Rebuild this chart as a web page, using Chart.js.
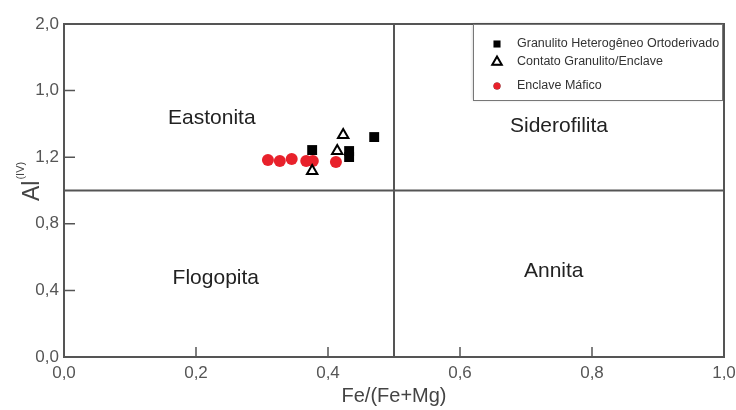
<!DOCTYPE html>
<html>
<head>
<meta charset="utf-8">
<script src="https://cdn.jsdelivr.net/npm/chart.js@4"></script>
<style>
  html, body { margin: 0; padding: 0; background: #fff; }
  #wrap { width: 736px; height: 410px; position: relative; }
</style>
</head>
<body>
<div id="wrap"><canvas id="chart-biotita"></canvas></div>
<script>
/* ------------------------------
 * dados
 * ------------------------------ */
const seriesNames = ['Granulito Heterogêneo Ortoderivado', 'Contato Granulito/Enclave', 'Enclave Máfico'];

// Fe/(Fe+Mg)
const granulitoX = [0.376, 0.432, 0.432, 0.470];
const contatoX   = [0.423, 0.414, 0.376];
const enclaveX   = [0.309, 0.327, 0.345, 0.367, 0.377, 0.412];

// Al(IV)
const granulitoY = [1.243, 1.237, 1.201, 1.321];
const contatoY   = [1.333, 1.237, 1.117];
const enclaveY   = [1.183, 1.177, 1.189, 1.177, 1.177, 1.171];

// rótulos dos eixos (como estão na figura original)
const xTickLabels = ['0,0', '0,2', '0,4', '0,6', '0,8', '1,0'];
const yTickLabels = ['0,0', '0,4', '0,8', '1,2', '1,0', '2,0'];

// campos do diagrama
const regionNames = ['Eastonita', 'Siderofilita', 'Flogopita', 'Annita'];
const regionX = [0.224, 0.750, 0.230, 0.742];
const regionY = [1.435, 1.387, 0.474, 0.517];

// divisões
const splitX = 0.5;
const splitY = 1.0;

const toPoints = (xs, ys) => xs.map((x, i) => ({ x: x, y: ys[i] }));

/* ------------------------------
 * desenho extra: moldura, divisões, ticks internos, textos, legenda
 * ------------------------------ */
const FONT = '"Liberation Sans", Arial, sans-serif';
const LINE = '#555';

const diagramPlugin = {
  id: 'diagram',
  beforeDatasetsDraw(chart) {
    const { ctx, chartArea: a, scales: { x, y } } = chart;
    ctx.save();
    ctx.strokeStyle = LINE;
    ctx.lineWidth = 2;

    // divisões
    const px = x.getPixelForValue(splitX);
    const py = y.getPixelForValue(splitY);
    ctx.beginPath();
    ctx.moveTo(px, a.top); ctx.lineTo(px, a.bottom);
    ctx.moveTo(a.left, py); ctx.lineTo(a.right, py);
    ctx.stroke();

    // ticks para dentro
    ctx.lineWidth = 1.5;
    ctx.beginPath();
    x.ticks.forEach(t => {
      if (t.value <= x.min || t.value >= x.max) return;
      const p = x.getPixelForValue(t.value);
      ctx.moveTo(p, a.bottom); ctx.lineTo(p, a.bottom - 10);
    });
    y.ticks.forEach(t => {
      if (t.value <= y.min || t.value >= y.max) return;
      const p = y.getPixelForValue(t.value);
      ctx.moveTo(a.left, p); ctx.lineTo(a.left + 11, p);
    });
    ctx.stroke();

    // moldura
    ctx.lineWidth = 2;
    ctx.strokeRect(a.left, a.top, a.right - a.left, a.bottom - a.top);

    // nomes dos campos
    ctx.fillStyle = '#222';
    ctx.font = '21px ' + FONT;
    ctx.textAlign = 'center';
    ctx.textBaseline = 'middle';
    regionNames.forEach((name, i) => {
      ctx.fillText(name, x.getPixelForValue(regionX[i]), y.getPixelForValue(regionY[i]));
    });

    // títulos dos eixos
    ctx.fillStyle = '#444';
    ctx.font = '20px ' + FONT;
    ctx.textBaseline = 'middle';
    ctx.fillText('Fe/(Fe+Mg)', (a.left + a.right) / 2, 396);

    ctx.translate(39, 201);
    ctx.rotate(-Math.PI / 2);
    ctx.textAlign = 'left';
    ctx.textBaseline = 'alphabetic';
    ctx.font = '23px ' + FONT;
    ctx.fillText('Al', 0, 0);
    const w = ctx.measureText('Al').width;
    ctx.font = '11px ' + FONT;
    ctx.fillText('(IV)', w + 1, -15);
    ctx.restore();
  },
  afterDraw(chart) {
    const { ctx, chartArea: a } = chart;
    const bw = 249, bh = 76;
    const bx = a.right - bw - 2, by = a.top;
    ctx.save();
    ctx.shadowColor = 'rgba(0,0,0,0.25)';
    ctx.shadowBlur = 3;
    ctx.fillStyle = '#fff';
    ctx.fillRect(bx, by, bw, bh);
    ctx.shadowColor = 'transparent';
    ctx.strokeStyle = '#777';
    ctx.lineWidth = 1;
    ctx.strokeRect(bx + 0.5, by + 0.5, bw, bh);

    const rowsY = [20, 38, 62];
    ctx.font = '12.5px ' + FONT;
    ctx.textAlign = 'left';
    ctx.textBaseline = 'middle';
    chart.data.datasets.forEach((ds, i) => {
      const cy = by + rowsY[i];
      const cx = bx + 24;
      Chart.helpers.drawPoint(ctx, {
        pointStyle: ds.pointStyle,
        radius: ds.legendRadius,
        borderWidth: ds.borderWidth
      }, cx, cy);
      ctx.fillStyle = ds.backgroundColor;
      ctx.strokeStyle = ds.borderColor;
      ctx.lineWidth = ds.borderWidth;
      ctx.fill();
      if (ds.borderWidth) ctx.stroke();
      ctx.fillStyle = '#333';
      ctx.fillText(ds.label, bx + 44, cy);
    });
    ctx.restore();
  }
};

/* ------------------------------
 * gráfico
 * ------------------------------ */
const ctxBiotita = document.getElementById('chart-biotita');

new Chart(ctxBiotita, {
  type: 'scatter',
  plugins: [diagramPlugin],
  data: {
    datasets: [
      {
        label: seriesNames[0],
        data: toPoints(granulitoX, granulitoY),
        pointStyle: 'rect',
        pointRadius: 7,
        legendRadius: 5,
        backgroundColor: '#000',
        borderColor: '#000',
        borderWidth: 0
      },
      {
        label: seriesNames[1],
        data: toPoints(contatoX, contatoY),
        pointStyle: 'triangle',
        pointRadius: 6,
        legendRadius: 5.5,
        backgroundColor: '#fff',
        borderColor: '#000',
        borderWidth: 2
      },
      {
        label: seriesNames[2],
        data: toPoints(enclaveX, enclaveY),
        pointStyle: 'circle',
        pointRadius: 6,
        legendRadius: 3.5,
        backgroundColor: '#e8212b',
        borderColor: '#e8212b',
        borderWidth: 0
      }
    ]
  },
  options: {
    responsive: true,
    maintainAspectRatio: false,
    animation: false,
    layout: { padding: { left: 0, right: 12, top: 24, bottom: 0 } },
    scales: {
      x: {
        type: 'linear',
        min: 0,
        max: 1,
        grid: { display: false, drawTicks: false },
        border: { display: false },
        afterFit: (s) => { s.height = 53; s.paddingLeft = 0; s.paddingRight = 0; },
        ticks: {
          stepSize: 0.2,
          padding: 6,
          color: '#555',
          font: { size: 17, family: FONT },
          callback: (v, i) => xTickLabels[i]
        }
      },
      y: {
        type: 'linear',
        min: 0,
        max: 2,
        grid: { display: false, drawTicks: false },
        border: { display: false },
        afterFit: (s) => { s.width = 64; },
        ticks: {
          stepSize: 0.4,
          padding: 5,
          color: '#555',
          font: { size: 17, family: FONT },
          callback: (v, i) => yTickLabels[i]
        }
      }
    },
    plugins: {
      legend: { display: false },
      tooltip: { enabled: false }
    }
  }
});
</script>
</body>
</html>
